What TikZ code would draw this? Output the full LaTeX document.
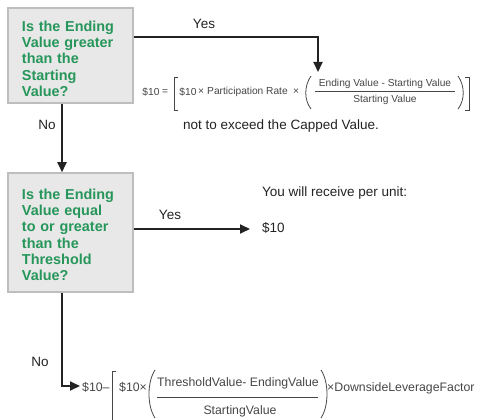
\documentclass[tikz,border=0pt]{standalone}
\usepackage{fontspec}
\setmainfont{Liberation Sans}
\usetikzlibrary{arrows.meta}
\definecolor{qgreen}{RGB}{38,150,90}
\definecolor{qfill}{RGB}{232,232,232}
\definecolor{qedge}{RGB}{190,190,190}
\definecolor{ink}{RGB}{35,35,35}
\definecolor{ftext}{RGB}{70,70,70}
\newcommand\myQfont{\fontsize{14.4}{16.3}\selectfont\bfseries}
\newcommand\myLfont{\fontsize{13.5}{16}\selectfont}
\newcommand\myFafont{\fontsize{10.2}{12}\selectfont}
\newcommand\myFbfont{\fontsize{12.3}{14}\selectfont}
\begin{document}
\begin{tikzpicture}[x=1pt,y=-1pt,
  qbox/.style={draw=qedge, fill=qfill, line width=1.5pt, text=qgreen, font=\myQfont, align=left, inner xsep=14pt, inner ysep=0pt, text width=97pt, minimum width=125pt},
  conn/.style={draw=ink, line width=1.8pt, -{Triangle[length=10pt,width=9pt]}},
  lbl/.style={font=\myLfont, text=ink, inner sep=0pt},
  fa/.style={font=\myFafont, text=ftext, inner sep=0pt},
  fb/.style={font=\myFbfont, text=ftext, inner sep=0pt},
  brk/.style={draw=ftext, line width=0.8pt},
]
\useasboundingbox (0,0) rectangle (483,420);
% decision boxes
\node[qbox, minimum height=95pt] (b1) at (70.5,55.5) {\rule{0pt}{17pt}Is the Ending\\Value greater\\than the\\Starting\\Value?};
\node[qbox, minimum height=119pt] (b2) at (70.5,232.5) {\rule{0pt}{15pt}Is the Ending\\Value equal\\to or greater\\than the\\Threshold\\Value?};
% labels
\node[lbl] (yes1) at (204,24) {Yes};
\node[lbl] (no1) at (47,125) {No};
\node[lbl] (yes2) at (170,215) {Yes};
\node[lbl] (no2) at (40,362) {No};
% formula 1
\node[fa] (f1a) at (151,92) {\$10};
\node[fa] (f1eq) at (165,92) {=};
\draw[brk] (178,77) -- (174,77) -- (174,110) -- (178,110);
\node[fa] (f1b) at (188,92) {\$10};
\node[fa] (f1x1) at (201,92) {×};
\node[fa] (f1pr) at (247.5,92) {Participation Rate};
\node[fa] (f1x2) at (296,92) {×};
\draw[brk] (311,76) .. controls (304,86) and (304,100) .. (311,109);
\node[fa] (f1num) at (385,84) {Ending Value - Starting Value};
\draw[brk] (315,91) -- (455,91);
\node[fa] (f1den) at (385,100) {Starting Value};
\draw[brk] (458,76) .. controls (465,86) and (465,100) .. (458,109);
\draw[brk] (465,77) -- (469,77) -- (469,110) -- (465,110);
\node[lbl, anchor=west] (cap) at (183,126) {not to exceed the Capped Value.};
% outcome 2
\node[lbl, anchor=west] (you) at (262,193) {You will receive per unit:};
\node[lbl, anchor=west] (ten) at (262,228) {\$10};
% formula 2
\node[fb, anchor=west] (f2a) at (82,387) {\$10–};
\draw[brk] (116,371) -- (112,371) -- (112,420);
\node[fb, anchor=west] (f2b) at (119,387) {\$10×};
\draw[brk] (155,370) .. controls (147,382) and (147,406) .. (155,418);
\node[fb] (f2num) at (238,383) {ThresholdValue- EndingValue};
\draw[brk] (157,397) -- (318,397);
\node[fb] (f2den) at (240,411) {StartingValue};
\draw[brk] (321,370) .. controls (329,382) and (329,406) .. (321,418);
\node[fb, anchor=west] (f2c) at (327,388) {×DownsideLeverageFactor};
% connectors
\coordinate (t1) at (318,72);
\coordinate (t2) at (250,229);
\coordinate (t3) at (80,386);
\draw[conn] ([yshift=18.5pt]b1.east) -| (t1);
\draw[conn] ([xshift=-8.5pt]b1.south) -- ([xshift=-8.5pt]b2.north);
\draw[conn] (b2.east |- t2) -- (t2);
\draw[conn] ([xshift=-8.5pt]b2.south) |- (t3);
\end{tikzpicture}
\end{document}
